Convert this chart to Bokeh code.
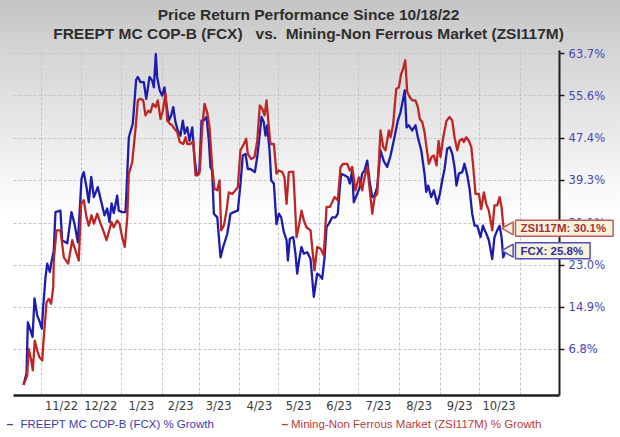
import math
import datetime as dt
from bokeh.plotting import figure
from bokeh.models import Label, FixedTicker, PrintfTickFormatter, Range1d, Grid
from bokeh.embed import file_html
from bokeh.resources import INLINE

# ---------------- data ----------------
start_date = dt.date(2022, 10, 18)
title_line1 = "Price Return Performance Since 10/18/22"
title_line2 = "FREEPT MC COP-B (FCX)\u00a0\u00a0\u00a0vs.\u00a0\u00a0Mining-Non Ferrous Market (ZSI117M)"
fcx_name = "FREEPT MC COP-B (FCX) % Growth"
zsi_name = "Mining-Non Ferrous Market (ZSI117M) % Growth"
month_labels = ["11/22", "12/22", "1/23", "2/23", "3/23", "4/23", "5/23",
                "6/23", "7/23", "8/23", "9/23", "10/23"]
y_ticks = [6.8, 14.9, 23.0, 31.1, 39.3, 47.4, 55.6, 63.7]

# days since 10/18/22
fcx_days = [0, 2.3, 3.3, 5.3, 6.9, 8.4, 10.5, 12.4, 14.0, 15.0,
            16.8, 18.1, 20.1, 21.1, 23.1, 24.4, 28.2, 29.5, 33.4, 36.6,
            38.9, 41.5, 44.3, 46.0, 48.1, 49.8, 51.7, 53.7, 56.7, 58.8,
            61.8, 63.9, 65.6, 67.2, 68.9, 71.5, 72.7, 75.3, 77.9, 80.4,
            83.4, 86.0, 87.3, 89.3, 91.8, 93.7, 96.2, 98.2, 99.5, 101.0,
            102.0, 104.0, 105.9, 107.6, 109.2, 110.9, 112.7, 114.3, 116.0, 117.8,
            119.8, 121.6, 123.1, 125.0, 126.7, 128.8, 130.5, 132.1, 134.1, 135.9,
            137.6, 139.7, 141.5, 142.7, 144.0, 145.3, 147.9, 150.4, 152.4, 155.5,
            158.0, 160.5, 163.6, 165.6, 167.4, 169.5, 171.2, 173.3, 176.6, 178.4,
            180.2, 181.7, 183.4, 184.7, 186.0, 187.8, 189.1, 191.1, 193.1, 194.9,
            196.7, 198.7, 200.8, 201.8, 203.3, 205.9, 207.6, 208.9, 210.7, 212.2,
            214.0, 216.6, 219.1, 221.6, 224.2, 226.2, 228.0, 229.8, 231.3, 233.1,
            235.6, 238.2, 239.9, 241.5, 242.5, 245.0, 247.6, 249.1, 250.9, 252.1,
            254.7, 256.7, 258.5, 260.3, 262.4, 264.1, 266.2, 268.0, 270.0, 272.5,
            275.0, 277.6, 280.2, 283.4, 285.7, 287.8, 289.8, 291.0, 292.4, 294.1,
            296.7, 299.2, 301.0, 303.6, 306.1, 307.4, 308.9, 311.2, 313.2, 315.8,
            317.8, 319.6, 321.4, 323.4, 325.4, 327.3, 329.0, 330.5, 332.3, 334.9,
            336.6, 338.7, 340.5, 342.5, 344.3, 346.3, 348.9, 350.6, 352.7, 355.2,
            357.8, 359.5, 361.6, 363.4, 364.9, 366.2, 367.9]
fcx_vals = [0, 2.2, 12.0, 10.5, 9.2, 16.6, 13.3, 12.1, 10.8, 14.9,
            20.7, 23.3, 21.7, 23.3, 25.8, 33.2, 33.5, 27.8, 27.2, 33.2,
            31.0, 27.4, 39.7, 40.9, 38.0, 35.1, 40.0, 36.1, 38.0, 35.8,
            32.6, 33.9, 31.3, 34.9, 33.0, 36.4, 33.5, 33.2, 33.2, 47.6,
            50.2, 58.7, 59.2, 58.2, 58.2, 55.0, 59.2, 58.5, 57.2, 63.6,
            59.2, 56.6, 55.6, 57.2, 53.7, 50.8, 51.8, 53.4, 50.5, 48.9,
            47.9, 50.8, 48.3, 49.5, 46.9, 49.5, 43.8, 40.6, 40.6, 50.8,
            50.8, 51.5, 46.9, 41.9, 41.2, 32.9, 32.2, 24.5, 26.5, 29.0,
            32.9, 33.2, 33.5, 38.6, 44.1, 44.4, 41.5, 41.5, 40.9, 43.8,
            47.9, 51.5, 50.5, 47.9, 49.9, 45.1, 39.3, 38.7, 30.9, 32.9,
            32.2, 29.4, 27.8, 23.9, 28.1, 28.4, 25.2, 21.4, 24.5, 26.5,
            25.2, 25.5, 24.2, 16.9, 21.4, 21.0, 20.4, 24.5, 30.3, 31.0,
            32.2, 32.2, 32.9, 38.0, 40.6, 40.3, 39.9, 38.7, 41.2, 35.1,
            36.7, 38.0, 40.6, 41.2, 43.1, 39.3, 36.1, 36.4, 38.0, 45.1,
            43.0, 41.9, 44.1, 47.9, 50.8, 52.4, 55.0, 56.6, 49.5, 49.9,
            48.9, 49.9, 47.6, 45.1, 40.6, 37.1, 38.3, 36.1, 37.4, 34.8,
            36.7, 39.3, 41.5, 45.4, 45.7, 44.4, 41.9, 38.3, 40.6, 40.9,
            42.5, 40.3, 37.7, 32.9, 30.6, 30.6, 28.4, 30.6, 29.4, 27.8,
            24.2, 28.4, 29.7, 30.6, 28.4, 24.5, 25.8]

zsi_days = [0, 2.8, 4.0, 5.9, 7.1, 8.6, 10.5, 12.2, 14.3, 15.5,
            17.6, 19.3, 21.1, 22.7, 23.1, 25.2, 28.2, 30.8, 34.1, 37.2,
            39.7, 42.2, 44.0, 46.0, 48.1, 49.8, 51.9, 53.7, 56.3, 58.8,
            60.8, 63.4, 65.1, 67.2, 68.9, 71.5, 73.3, 75.3, 77.3, 79.2,
            80.4, 83.0, 85.5, 87.3, 89.3, 91.4, 93.1, 95.2, 96.9, 98.7,
            100.8, 102.5, 104.6, 106.3, 108.4, 109.7, 111.7, 113.5, 115.3, 117.3,
            119.3, 121.9, 123.7, 125.0, 127.5, 129.5, 131.3, 133.1, 134.6, 136.4,
            138.2, 140.2, 142.0, 144.0, 145.8, 147.9, 149.6, 150.9, 152.9, 155.0,
            156.7, 159.3, 161.8, 163.6, 165.6, 168.2, 170.0, 171.2, 173.8, 176.3,
            178.4, 180.4, 182.2, 184.0, 185.5, 187.3, 188.5, 191.1, 193.1, 194.9,
            197.5, 199.2, 200.8, 202.5, 205.9, 206.9, 208.4, 210.2, 212.2, 214.0,
            216.0, 219.1, 222.1, 224.2, 226.7, 229.2, 231.3, 233.8, 235.6, 237.4,
            239.9, 242.0, 244.0, 247.1, 249.1, 250.9, 253.4, 256.0, 258.5, 260.3,
            262.4, 264.1, 266.2, 268.0, 270.0, 272.5, 274.6, 276.3, 278.9, 280.2,
            282.2, 284.5, 286.5, 288.3, 289.8, 291.4, 292.9, 294.9, 296.7, 299.2,
            301.0, 302.5, 304.4, 306.1, 307.6, 309.4, 311.5, 313.2, 315.3, 316.8,
            318.3, 320.4, 322.9, 325.2, 327.3, 329.0, 331.1, 332.8, 334.9, 336.1,
            337.9, 340.0, 341.8, 343.3, 345.0, 347.6, 349.4, 351.4, 353.2, 355.2,
            357.8, 359.5, 361.6, 363.4, 364.9, 366.2, 367.9]
zsi_vals = [0, 1.8, 6.9, 4.7, 2.8, 8.5, 6.6, 5.3, 4.7, 9.2,
            15.9, 16.5, 15.6, 18.8, 23.9, 29.7, 29.7, 24.5, 23.3, 27.8,
            25.8, 23.9, 34.8, 35.5, 32.2, 30.6, 32.6, 31.0, 32.9, 31.0,
            29.7, 27.8, 29.4, 31.3, 30.3, 31.6, 31.0, 28.4, 26.5, 32.2,
            40.6, 42.8, 49.2, 54.7, 55.0, 54.7, 51.8, 52.7, 52.4, 54.0,
            53.4, 54.7, 51.1, 52.7, 56.0, 50.8, 50.2, 49.9, 49.2, 48.6,
            46.7, 46.3, 47.6, 46.3, 46.3, 46.9, 40.3, 40.3, 41.2, 49.5,
            54.0, 52.4, 49.5, 41.9, 37.7, 37.4, 39.3, 29.7, 30.6, 33.5,
            37.0, 36.7, 37.4, 38.0, 45.1, 46.3, 47.3, 44.4, 43.4, 43.8,
            46.9, 53.7, 53.1, 51.8, 54.7, 49.5, 46.3, 46.3, 40.6, 41.2,
            40.9, 39.9, 34.8, 40.9, 41.0, 36.4, 28.4, 30.6, 33.5, 31.6,
            30.3, 29.7, 22.0, 26.5, 26.2, 24.9, 34.2, 34.2, 35.1, 36.1,
            35.5, 41.9, 42.5, 42.5, 41.2, 41.9, 37.4, 39.9, 37.4, 39.9,
            41.9, 38.0, 32.9, 36.1, 36.7, 48.9, 45.7, 45.1, 48.9, 47.6,
            50.2, 56.9, 57.2, 59.8, 60.8, 62.4, 56.3, 55.3, 54.7, 54.7,
            53.4, 51.1, 50.5, 48.6, 45.7, 42.5, 43.8, 44.1, 42.2, 46.9,
            43.8, 47.6, 50.8, 51.5, 50.8, 47.6, 45.1, 46.9, 47.3, 46.7,
            47.6, 46.9, 45.7, 41.9, 36.7, 36.7, 33.8, 37.0, 34.8, 33.5,
            29.7, 34.5, 34.5, 36.1, 34.2, 30.6, 30.1]

# plotting area (in data units) inside the full-size frame
plot_x0, plot_x1 = -7.6, 409.2
plot_y0, plot_y1 = -2.04, 64.28

# ---------------- derived ticks ----------------
month_starts = [dt.date(2022 + (10 + i) // 12, (10 + i) % 12 + 1, 1) for i in range(13)]
grid_days = [(m - start_date).days for m in month_starts]
tick_days = [(grid_days[i] + grid_days[i + 1]) // 2 for i in range(len(month_labels))]

BLUE = "#1c1cae"
RED = "#be2626"
W, H = 620, 437

p = figure(width=W, height=H, output_backend="svg", toolbar_location=None,
           x_range=Range1d(-17.56, 455.7), y_range=Range1d(-10.12, 73.89),
           y_axis_location="right",
           min_border_left=0, min_border_right=0, min_border_top=0, min_border_bottom=0,
           background_fill_color=None, border_fill_color=None, outline_line_color=None)
p.title.visible = False
p.styles = {"background": "linear-gradient(to bottom, #c4c4c4 0px, #d4d4d4 50px, "
                          "#e6e6e6 120px, #ffffff 215px, #ffffff 100%)"}

# axes drawn at fixed data locations (they take no border space)
p.yaxis.fixed_location = plot_x1
p.yaxis.bounds = (plot_y0, plot_y1)
p.yaxis.ticker = FixedTicker(ticks=y_ticks)
p.yaxis.formatter = PrintfTickFormatter(format="%.1f%%")
p.yaxis.axis_line_color = "#1e1e1e"
p.yaxis.axis_line_width = 2
p.yaxis.major_tick_line_color = "#1e1e1e"
p.yaxis.major_tick_line_width = 1.5
p.yaxis.major_tick_in = 0
p.yaxis.major_tick_out = 5
p.yaxis.minor_tick_line_color = None
p.yaxis.major_label_standoff = 4
p.yaxis.major_label_text_font = "DejaVu Sans"
p.yaxis.major_label_text_font_size = "11.5px"
p.yaxis.major_label_text_color = "#4646b4"

p.xaxis.fixed_location = plot_y0
p.xaxis.bounds = (plot_x0, plot_x1)
p.xaxis.ticker = FixedTicker(ticks=tick_days)
p.xaxis.major_label_overrides = {d: lab for d, lab in zip(tick_days, month_labels)}
p.xaxis.axis_line_color = "#1e1e1e"
p.xaxis.axis_line_width = 2.5
p.xaxis.major_tick_line_color = None
p.xaxis.major_tick_in = 0
p.xaxis.major_tick_out = 0
p.xaxis.minor_tick_line_color = None
p.xaxis.major_label_standoff = 4
p.xaxis.major_label_text_font = "DejaVu Sans"
p.xaxis.major_label_text_font_size = "11.5px"
p.xaxis.major_label_text_color = "#3a3a3a"

# grids, limited to the plotting area
GRID_COL = "#c4c4c4"
if "cross_bounds" in Grid.properties():
    p.xgrid.ticker = FixedTicker(ticks=grid_days)
    p.ygrid.ticker = FixedTicker(ticks=y_ticks)
    p.xgrid.cross_bounds = (plot_y0, plot_y1)
    p.ygrid.cross_bounds = (plot_x0, plot_x1)
    for g in (p.xgrid, p.ygrid):
        g.grid_line_color = GRID_COL
        g.grid_line_dash = "3 2"
        g.grid_line_width = 1
else:
    p.xgrid.visible = False
    p.ygrid.visible = False
    p.segment(x0=grid_days, x1=grid_days, y0=[plot_y0] * len(grid_days),
              y1=[plot_y1] * len(grid_days), line_color=GRID_COL, line_dash="3 2", line_width=1)
    p.segment(x0=[plot_x0] * len(y_ticks), x1=[plot_x1] * len(y_ticks), y0=y_ticks,
              y1=y_ticks, line_color=GRID_COL, line_dash="3 2", line_width=1)

# series
p.line(fcx_days, fcx_vals, line_color=BLUE, line_width=2.3, line_join="round")
p.line(zsi_days, zsi_vals, line_color=RED, line_width=2.3, line_join="round")

# end-value tags
CREAM = "#f7f2dc"
for days, vals, name, txt_col, brd_col in (
        (zsi_days, zsi_vals, "ZSI117M", "#a83232", "#c45a5a"),
        (fcx_days, fcx_vals, "FCX", "#2e2ea0", "#5050b8")):
    p.scatter([days[-1] + 3], [vals[-1]], marker="triangle", size=13, angle=math.pi / 2,
              fill_color=CREAM, line_color=brd_col, line_width=1.5)
    p.add_layout(Label(x=days[-1], y=vals[-1], x_offset=10, text=f"{name}: {vals[-1]:.1f}%",
                       text_baseline="middle", text_align="left",
                       text_font="Liberation Sans", text_font_style="bold",
                       text_font_size="11.5px", text_color=txt_col,
                       background_fill_color=CREAM, border_line_color=brd_col,
                       border_line_width=1.5,
                       padding=dict(left=5, right=7, top=2, bottom=2)))

# titles (screen units, measured from the bottom-left of the frame)
for txt, yy in ((title_line1, H - 14), (title_line2, H - 33)):
    p.add_layout(Label(x=308, y=yy, x_units="screen", y_units="screen", text=txt,
                       text_align="center", text_baseline="middle",
                       text_font="Liberation Sans", text_font_style="bold",
                       text_font_size="15.5px", text_color="#2e2e2e"))

# legend below
for dx, tx, name, col in ((6, 20, fcx_name, "#3b3bb0"), (281, 290.5, zsi_name, "#b83a3a")):
    p.add_layout(Label(x=dx, y=H - 423, x_units="screen", y_units="screen", text="\u2013",
                       text_align="left", text_baseline="middle",
                       text_font="Liberation Sans", text_font_style="bold",
                       text_font_size="12px", text_color=col))
    p.add_layout(Label(x=tx, y=H - 423, x_units="screen", y_units="screen", text=name,
                       text_align="left", text_baseline="middle",
                       text_font="Liberation Sans", text_font_size="11.5px",
                       text_color=col))

open("out.html", "w").write(file_html(p, INLINE))
